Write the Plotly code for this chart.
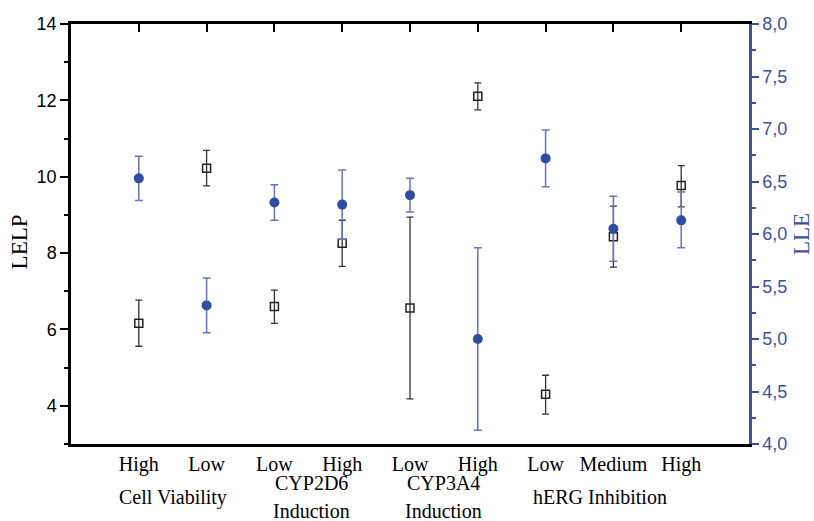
import plotly.graph_objects as go

# categories along the x axis (positions 1..9)
levels = ["High", "Low", "Low", "High", "Low", "High", "Low", "Medium", "High"]
positions = [1, 2, 3, 4, 5, 6, 7, 8, 9]
groups = ["Cell Viability", "CYP2D6<br>Induction", "CYP3A4<br>Induction", "hERG Inhibition"]
group_centers = [1.5, 3.55, 5.5, 7.8]

# LELP (left axis), mean with upper / lower error
lelp = [6.16, 10.22, 6.60, 8.26, 6.56, 12.11, 4.30, 8.43, 9.77]
lelp_hi = [6.77, 10.69, 7.03, 8.86, 8.94, 12.46, 4.80, 9.23, 10.29]
lelp_lo = [5.56, 9.76, 6.16, 7.65, 4.18, 11.75, 3.78, 7.63, 9.21]

# LLE (right axis)
lle = [6.53, 5.32, 6.30, 6.28, 6.37, 5.00, 6.72, 6.05, 6.13]
lle_hi = [6.74, 5.58, 6.47, 6.61, 6.53, 5.87, 6.99, 6.36, 6.40]
lle_lo = [6.32, 5.06, 6.13, 5.95, 6.21, 4.13, 6.45, 5.74, 5.87]

blue = "#2f4ea3"
axis_blue = "#3b51a3"
blue_err = "#6475bd"
serif = "Liberation Serif"
sans = "Liberation Sans"

fig = go.Figure()
fig.add_trace(go.Scatter(
    x=positions, y=lelp, mode="markers",
    marker=dict(symbol="square-open", size=8, color="#222", line=dict(width=1.5)),
    error_y=dict(type="data", symmetric=False,
                 array=[h - m for h, m in zip(lelp_hi, lelp)],
                 arrayminus=[m - l for m, l in zip(lelp, lelp_lo)],
                 color="#333", thickness=1.3, width=3.5),
    xaxis="x", yaxis="y", showlegend=False))
fig.add_trace(go.Scatter(
    x=positions, y=lle, mode="markers",
    marker=dict(symbol="circle", size=10, color=blue),
    error_y=dict(type="data", symmetric=False,
                 array=[h - m for h, m in zip(lle_hi, lle)],
                 arrayminus=[m - l for m, l in zip(lle, lle_lo)],
                 color=blue_err, thickness=1.5, width=4),
    xaxis="x2", yaxis="y2", showlegend=False))

# group labels under the tick labels, one annotation per line
for g, c in zip(groups, group_centers):
    lines = g.split("<br>")
    shifts = [-53] if len(lines) == 1 else [-39, -67]
    for line, s in zip(lines, shifts):
        fig.add_annotation(x=c, y=0, xref="x", yref="paper", text=line, showarrow=False,
                           yanchor="middle", yshift=s,
                           font=dict(family=serif, size=20, color="black"))

# axis titles
fig.add_annotation(x=0, y=0.48, xref="paper", yref="paper", text="LELP", showarrow=False,
                   textangle=-90, xanchor="center", yanchor="middle", xshift=-52,
                   font=dict(family=serif, size=23, color="black"))
fig.add_annotation(x=1, y=0.5, xref="paper", yref="paper", text="LLE", showarrow=False,
                   textangle=-90, xanchor="center", yanchor="middle", xshift=52,
                   font=dict(family=serif, size=23, color=axis_blue))

fig.update_layout(
    width=814, height=521,
    margin=dict(l=71, r=65, t=24, b=77),
    paper_bgcolor="white", plot_bgcolor="white",
    separators=",.",
    xaxis=dict(range=[0, 10], tickvals=positions, ticktext=levels, automargin=False,
               showline=True, linecolor="black", linewidth=2.5,
               ticks="", ticklabelstandoff=0, showgrid=False, zeroline=False,
               tickfont=dict(family=serif, size=20, color="black")),
    xaxis2=dict(range=[0, 10], matches="x", overlaying="x", side="top", anchor="y",
                tickvals=positions, showticklabels=False, automargin=False,
                showline=True, linecolor="black", linewidth=2.5,
                ticks="inside", ticklen=8, tickwidth=2, tickcolor="black",
                showgrid=False, zeroline=False),
    yaxis=dict(range=[3, 14], dtick=2, tick0=0, automargin=False,
               showline=True, linecolor="black", linewidth=2.5,
               ticks="outside", ticklen=8, tickwidth=2, tickcolor="black",
               minor=dict(dtick=1, ticks="outside", ticklen=4, tickwidth=2, tickcolor="black"),
               showgrid=False, zeroline=False,
               tickfont=dict(family=sans, size=18, color="black")),
    yaxis2=dict(range=[4, 8], dtick=0.5, tick0=0, tickformat=".1f", automargin=False,
                overlaying="y", side="right", anchor="x",
                showline=True, linecolor=axis_blue, linewidth=2.5,
                ticks="outside", ticklen=7, tickwidth=2, tickcolor=axis_blue,
                minor=dict(dtick=0.25, ticks="outside", ticklen=4, tickwidth=2, tickcolor=axis_blue),
                showgrid=False, zeroline=False,
                tickfont=dict(family=sans, size=18, color=axis_blue)),
)

# drop the page's default body margin so the figure fills the window exactly
fig.write_html("out.html", config={"displayModeBar": False},
               post_script="document.body.style.margin='0';")
